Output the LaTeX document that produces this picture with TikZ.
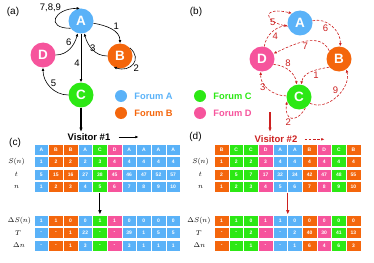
\documentclass[tikz,border=0pt]{standalone}
\usepackage[no-math]{fontspec}
\setmainfont{Liberation Sans}
\usetikzlibrary{positioning, arrows.meta}

\definecolor{fA}{RGB}{90,178,248}
\definecolor{fB}{RGB}{244,102,12}
\definecolor{fC}{RGB}{44,232,20}
\definecolor{fD}{RGB}{246,84,156}
\definecolor{dred}{RGB}{204,32,32}

\begin{document}
\begin{tikzpicture}[x=1pt, y=-1pt, >={Latex[length=3.2pt,width=2.8pt]}]

\tikzset{
  forum/.style={
    circle, fill=#1, text=white, minimum size=25pt, inner sep=0pt,
    font=\fontsize{13.5}{14}\selectfont\bfseries
  },
  lab/.style={font=\fontsize{9.5}{10}\selectfont, inner sep=1pt},
  panel/.style={font=\fontsize{10}{11}\selectfont, inner sep=0pt},
  visit/.style={->, line width=0.6pt},
  redvisit/.style={->, line width=0.6pt, draw=dred, dash pattern=on 2.6pt off 1.6pt},
  flow/.style={-{Latex[length=4.5pt,width=3.6pt]}, line width=1.1pt},
  dot/.style={circle, fill=#1, minimum size=12pt, inner sep=0pt},
  legend/.style={text=#1, font=\fontsize{9.3}{10}\selectfont\bfseries, inner sep=0pt},
  cell/.style={
    rectangle, fill=#1, draw=white, line width=0.4pt,
    minimum width=14.65pt, minimum height=11pt, inner sep=0pt,
    text=white, font=\fontsize{5}{5}\selectfont\bfseries
  },
  rowlab/.style={font=\fontsize{7.5}{8}\selectfont, inner sep=0pt},
  visitor/.style={font=\fontsize{9.5}{10}\selectfont\bfseries, inner sep=0pt}
}

\useasboundingbox (0,0) rectangle (374,262);

% ==========================
% (a) Visitor #1
% ==========================
\node[panel] at (13,12) {(a)};
\node[forum=fA] (Aa) at (81,21) {A};
\node[forum=fB] (Ba) at (120,56) {B};
\node[forum=fD] (Da) at (43,55) {D};
\node[forum=fC] (Ca) at (81,95) {C};

\draw[visit] (Aa) to[out=-10, in=90] node[lab, pos=0.55, above right=-1pt] {1} (Ba);
\draw[visit] (Ba.40) to[out=-40, in=-20, looseness=1.8] node[lab, pos=0.5, below right=-1pt] {2} (Ba.-120);
\draw[visit] (Ba) to[out=180, in=-75] node[lab, pos=0.35, above left=-1pt] {3} (Aa);
\draw[visit] (Aa) -- node[lab, pos=0.6, left] {4} (Ca);
\draw[visit] (Ca) to[out=180, in=-90] node[lab, pos=0.5, above right=-1pt] {5} (Da);
\draw[visit] (Da) to[out=0, in=-105] node[lab, pos=0.6, above left=-1pt] {6} (Aa);
\draw[visit] (Aa.215) to[out=180, in=180, looseness=3] node[lab, pos=0.7, above left=-1pt] {7,8,9} (Aa.95);

% ==========================
% (b) Visitor #2
% ==========================
\node[panel] at (196,12) {(b)};
\node[forum=fA] (Ab) at (300,23) {A};
\node[forum=fB] (Bb) at (339,59) {B};
\node[forum=fD] (Db) at (262,59) {D};
\node[forum=fC] (Cb) at (299,97) {C};

\begin{scope}[every node/.append style={text=dred}]
\draw[redvisit] (Bb.-140) to[out=190, in=80] node[lab, pos=0.45, below right=-1pt] {1} (Cb);
\draw[redvisit] (Cb.-60) to[out=-120, in=-100, looseness=2.5] node[lab, pos=0.5, below left=-1pt] {2} (Cb.200);
\draw[redvisit] (Cb.175) to[out=180, in=-95] node[lab, pos=0.55, left] {3} (Db);
\draw[redvisit] (Db) to[out=80, in=190] node[lab, pos=0.5, below right=-1pt] {4} (Ab);
\draw[redvisit] (Ab.195) .. controls (262,22) and (262,6) .. node[lab, pos=0.35, below right=-2pt] {5} (Ab.130);
\draw[redvisit] (Ab.10) to[out=15, in=85] node[lab, pos=0.4, below left=-1pt] {6} (Bb);
\draw[redvisit] (Bb.140) to[out=115, in=25] node[lab, pos=0.5, below] {7} (Db);
\draw[redvisit] (Db.-25) to[out=-5, in=100] node[lab, pos=0.35, above right=-1pt] {8} (Cb);
\draw[redvisit] (Cb.-30) to[out=-25, in=-75] node[lab, pos=0.55, above left=-1pt] {9} (Bb.-55);
\end{scope}

% Legend
\node[dot=fA] (dA) at (121,96) {};
\node[dot=fB] (dB) at (121,113) {};
\node[dot=fC] (dC) at (200,96) {};
\node[dot=fD] (dD) at (200,113) {};
\node[legend=fA, right=7pt of dA] {Forum A};
\node[legend=fB, right=7pt of dB] {Forum B};
\node[legend=fC, right=7pt of dC] {Forum C};
\node[legend=fD, right=7pt of dD] {Forum D};

% ==========================
% (c) Table for visitor #1
% ==========================
\coordinate (a-out) at (81,132);
\draw[flow] (Ca) -- (a-out);
\node[visitor] (v1) at (89,137) {Visitor \#1};
\coordinate[right=8pt of v1] (v1a);
\coordinate[right=28pt of v1] (v1b);
\draw[visit] (v1a) -- (v1b);
\node[panel] at (15,142.7) {(c)};

\foreach \fo/\sv/\tv [count=\i] in {A/1/5,B/2/15,B/2/16,A/2/27,C/3/38,D/4/45,A/4/46,A/4/47,A/4/52,A/4/57}{
  \node[cell=f\fo] (c-f-\i) at ({34+(\i-0.5)*14.65},149.3) {\fo};
  \node[cell=f\fo] (c-s-\i) at ({34+(\i-0.5)*14.65},161.9) {\sv};
  \node[cell=f\fo] (c-t-\i) at ({34+(\i-0.5)*14.65},174.5) {\tv};
  \node[cell=f\fo] (c-n-\i) at ({34+(\i-0.5)*14.65},187.1) {\i};
}
\foreach \fo/\ds/\tT/\dn [count=\i] in {A/1/-/-,B/1/-/-,B/0/1/1,A/0/22/3,C/1/-/-,D/1/-/-,A/0/39/3,A/0/1/1,A/0/5/1,A/0/5/1}{
  \node[cell=f\fo] (c-ds-\i) at ({34+(\i-0.5)*14.65},220.3) {\ds};
  \node[cell=f\fo] (c-T-\i) at ({34+(\i-0.5)*14.65},232.9) {\tT};
  \node[cell=f\fo] (c-dn-\i) at ({34+(\i-0.5)*14.65},245.5) {\dn};
}
\node[rowlab] at (16.5,161.9) {$S(n)$};
\node[rowlab] at (16.5,174.5) {$t$};
\node[rowlab] at (16.5,187.1) {$n$};
\node[rowlab] at (19.5,220.3) {$\Delta S(n)$};
\node[rowlab] at (18,232.9) {$T$};
\node[rowlab] at (19,245.5) {$\Delta n$};

\draw[flow] (c-n-5.south) -- (c-ds-5.north);

% ==========================
% (d) Table for visitor #2
% ==========================
\coordinate (b-out) at (270,112);
\coordinate (b-in) at (270,132);
\draw[flow, dred] (b-out) -- (b-in);
\node[visitor, text=dred] (v2) at (276,139.3) {Visitor \#2};
\coordinate[right=7pt of v2] (v2a);
\coordinate[right=27pt of v2] (v2b);
\draw[redvisit] (v2a) -- (v2b);
\node[panel] at (195.5,137) {(d)};

\foreach \fo/\sv/\tv [count=\i] in {B/1/2,C/2/5,C/2/7,D/3/17,A/4/32,A/4/34,B/4/42,D/4/47,C/4/48,B/4/55}{
  \node[cell=f\fo] (d-f-\i) at ({214.3+(\i-0.5)*14.65},149.3) {\fo};
  \node[cell=f\fo] (d-s-\i) at ({214.3+(\i-0.5)*14.65},161.9) {\sv};
  \node[cell=f\fo] (d-t-\i) at ({214.3+(\i-0.5)*14.65},174.5) {\tv};
  \node[cell=f\fo] (d-n-\i) at ({214.3+(\i-0.5)*14.65},187.1) {\i};
}
\foreach \fo/\ds/\tT/\dn [count=\i] in {B/1/-/-,C/1/-/-,C/0/2/1,D/1/-/-,A/1/-/-,A/0/2/1,B/0/40/6,D/0/30/4,C/0/41/6,B/0/13/3}{
  \node[cell=f\fo] (d-ds-\i) at ({214.3+(\i-0.5)*14.65},220.3) {\ds};
  \node[cell=f\fo] (d-T-\i) at ({214.3+(\i-0.5)*14.65},232.9) {\tT};
  \node[cell=f\fo] (d-dn-\i) at ({214.3+(\i-0.5)*14.65},245.5) {\dn};
}
\node[rowlab] at (200.5,161.9) {$S(n)$};
\node[rowlab] at (200.5,174.5) {$t$};
\node[rowlab] at (200.5,187.1) {$n$};
\node[rowlab] at (199,220.3) {$\Delta S(n)$};
\node[rowlab] at (198.7,232.9) {$T$};
\node[rowlab] at (199.5,245.5) {$\Delta n$};

\draw[flow, dred] (d-n-5.south east) -- (d-ds-5.north east);

\end{tikzpicture}
\end{document}
